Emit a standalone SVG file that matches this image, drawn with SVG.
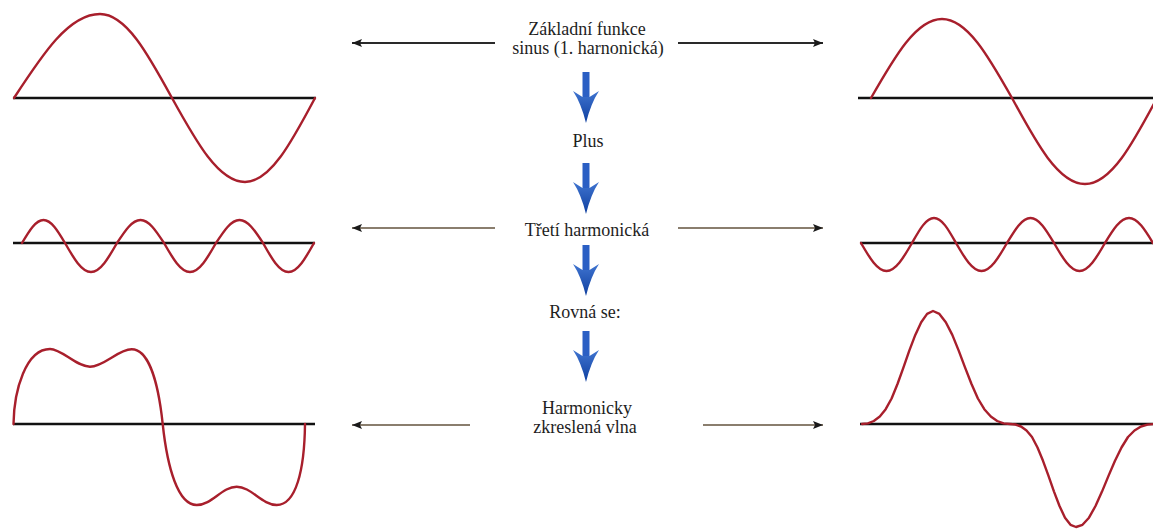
<svg xmlns="http://www.w3.org/2000/svg" width="1153" height="529" viewBox="0 0 1153 529">
<style>
.bg{fill:#ffffff}
.axis{stroke:#111;stroke-width:2.6;fill:none}
.wave{stroke:#a81f2c;stroke-width:2.4;fill:none;stroke-linejoin:round;stroke-linecap:round}
.lbl{font-size:18px;fill:#1e1e1e;text-anchor:middle}
.conn1{stroke:#2a2a2a;stroke-width:2;fill:none}
.conn2{stroke:#8a7e6e;stroke-width:2;fill:none}
</style>
<defs>
<marker id="ah" markerUnits="userSpaceOnUse" markerWidth="10" markerHeight="8" refX="10" refY="4" orient="auto" viewBox="0 0 10 8">
<path d="M0,0 L10,4 L0,8 L2,4 Z" fill="#1a1a1a"/>
</marker>
<linearGradient id="bg1" x1="0" y1="0" x2="0" y2="1">
<stop offset="0" stop-color="#3f74d0"/>
<stop offset="1" stop-color="#0f3f9f"/>
</linearGradient>
<g id="blue">
<path d="M-3.5,0 L3.5,0 L3.5,25 L-3.5,25 Z" fill="#2b5fc4"/>
<path d="M-13,19 L-3.5,25 L3.5,25 L13,19 Q5,31 0,51 Q-5,31 -13,19 Z" fill="url(#bg1)"/>
</g>
</defs>
<rect class="bg" x="0" y="0" width="1153" height="529"/>

<g id="wave-fundamental-left">
<line class="axis" x1="13" y1="98" x2="316" y2="98"/>
<path class="wave" d="M14,98 C42.7,53.9 68.9,14 100,14 C126,14 147.9,53.9 172,98 C196.4,142.1 218.6,182 245,182 C270.3,182 291.6,142.1 315,98"/>
</g>
<g id="wave-fundamental-right">
<line class="axis" x1="858" y1="98" x2="1153" y2="98"/>
<path class="wave" d="M871,98 C894.7,56.5 916.3,19 942,19 C967.3,19 988.6,56.5 1012,98 C1036.4,143.2 1058.6,184 1085,184 C1111,184 1132.9,143.2 1157,98"/>
</g>
<g id="wave-third-left">
<line class="axis" x1="13" y1="243" x2="315" y2="243"/>
<path class="wave" d="M22,243 C29.2,230.9 35.7,220 43.5,220 C51.3,220 57.8,230.9 65,243 C73.7,258.2 81.6,272 91,272 C100.4,272 108.3,258.2 117,243 C124.9,230.9 132,220 140.5,220 C149,220 156.1,230.9 164,243 C172.7,258.2 180.6,272 190,272 C199.4,272 207.3,258.2 216,243 C223.9,230.9 231,220 239.5,220 C248,220 255.1,230.9 263,243 C271.5,258.2 279.3,272 288.5,272 C297.7,272 305.5,258.2 314,243"/>
</g>
<g id="wave-third-right">
<line class="axis" x1="860" y1="243" x2="1153" y2="243"/>
<path class="wave" d="M861,243 C869.5,257.7 877.3,271 886.5,271 C895.7,271 903.5,257.7 912,243 C919.4,229.9 926,218 934,218 C942,218 948.6,229.9 956,243 C964.5,257.7 972.3,271 981.5,271 C990.7,271 998.5,257.7 1007,243 C1014.9,229.9 1022,218 1030.5,218 C1039,218 1046.1,229.9 1054,243 C1062.5,257.7 1070.3,271 1079.5,271 C1088.7,271 1096.5,257.7 1105,243 C1113,229.9 1120.3,218 1129,218 C1137.7,218 1145,229.9 1153,243"/>
</g>
<g id="wave-distorted-left">
<line class="axis" x1="13" y1="424" x2="315" y2="424"/>
<path class="wave" d="M13.5,424 C14,390 26,349 50,349 C62,349 76,366.7 90,366.7 C104,366.7 118,349.3 131.7,349.3 C148,349.3 158,380 162.7,424 C167.4,468 178,505 196.7,505 C212,505 222,486.7 236.7,486.7 C251,486.7 262,505 276.7,505 C296,505 304.5,470 305,424"/>
</g>
<g id="wave-distorted-right">
<line class="axis" x1="860" y1="424" x2="1153" y2="424"/>
<polyline class="wave" points="862,424 867.9,423.4 873.8,421 879.8,416.5 885.7,409.2 891.6,398.5 897.5,384 903.4,367.6 909.3,350.6 915.3,334.9 921.2,322.2 927.1,313.9 933,311 939.4,313.9 945.8,322.2 952.3,334.9 958.7,350.6 965.1,367.6 971.5,384 977.9,398.5 984.3,409.2 990.8,416.5 997.2,421 1003.6,423.4 1010,424 1015.5,424.5 1021,426.5 1026.5,430.5 1032,437 1037.5,447.5 1043,460.8 1048.5,475.9 1054,491.6 1059.5,506 1065,517.7 1070.5,524.8 1076,527 1082.5,524.8 1089,517.7 1095.5,506 1102,491.6 1108.5,475.9 1115,460.8 1121.5,447.5 1128,437 1134.5,430.5 1141,426.5 1147.5,424.6 1154,424"/>
</g>

<g id="label-fundamental" font-family="Liberation Serif, Times New Roman, DejaVu Serif, serif">
<text class="lbl" x="587" y="35">Základní funkce</text>
<text class="lbl" x="588" y="54">sinus (1. harnonická)</text>
</g>
<g id="label-plus" font-family="Liberation Serif, Times New Roman, DejaVu Serif, serif"><text class="lbl" x="588" y="147">Plus</text></g>
<g id="label-third" font-family="Liberation Serif, Times New Roman, DejaVu Serif, serif"><text class="lbl" x="587" y="236">Třetí harmonická</text></g>
<g id="label-equals" font-family="Liberation Serif, Times New Roman, DejaVu Serif, serif"><text class="lbl" x="585" y="318">Rovná se:</text></g>
<g id="label-distorted" font-family="Liberation Serif, Times New Roman, DejaVu Serif, serif">
<text class="lbl" x="587" y="414">Harmonicky</text>
<text class="lbl" x="585" y="433">zkreslená vlna</text>
</g>

<g id="connectors">
<line class="conn1" x1="495" y1="43" x2="352" y2="43" marker-end="url(#ah)"/>
<line class="conn1" x1="678" y1="43" x2="823" y2="43" marker-end="url(#ah)"/>
<line class="conn2" x1="495" y1="228" x2="352" y2="228" marker-end="url(#ah)"/>
<line class="conn2" x1="678" y1="228" x2="823" y2="228" marker-end="url(#ah)"/>
<line class="conn2" x1="470" y1="425" x2="352" y2="425" marker-end="url(#ah)"/>
<line class="conn2" x1="703" y1="425" x2="823" y2="425" marker-end="url(#ah)"/>
<use href="#blue" x="586" y="72"/>
<use href="#blue" x="586" y="163"/>
<use href="#blue" x="586" y="245"/>
<use href="#blue" x="586" y="331"/>
</g>
</svg>
